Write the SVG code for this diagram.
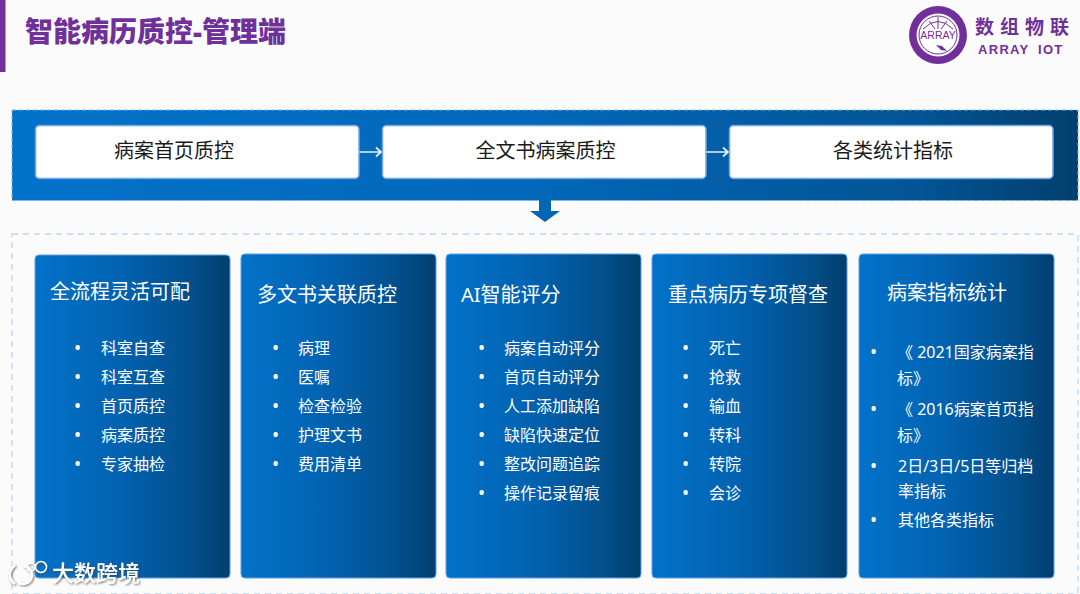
<svg xmlns="http://www.w3.org/2000/svg" width="1080" height="594" viewBox="0 0 1080 594">
<style>
text{font-family:"Noto Sans","Noto Sans CJK SC",sans-serif}
.box{fill:#fff;stroke:#6ea6e8;stroke-width:1.500}
.bt{font-size:20px;fill:#1a1a1a;text-anchor:middle}
.card{fill:url(#g);stroke:#5f9fe6;stroke-width:1}
.ct{font-size:20px;fill:#fff}
.it{font-size:16px;fill:#fff}
.bu{font-size:19px;fill:#fff}
.flow{stroke:#e8f3fd;stroke-width:1.700;fill:none}
</style>
<defs>
<linearGradient id="g" x1="0" x2="1" y1="0" y2="0"><stop offset="0" stop-color="#0272c9"/><stop offset=".45" stop-color="#0262b0"/><stop offset=".8" stop-color="#024f8c"/><stop offset="1" stop-color="#023f6e"/></linearGradient>
<linearGradient id="gb" x1="0" x2="1" y1="0" y2="0"><stop offset="0" stop-color="#0272c9"/><stop offset=".5" stop-color="#0267b8"/><stop offset=".85" stop-color="#025494"/><stop offset="1" stop-color="#023f6e"/></linearGradient>
<filter id="sh" x="-10%" y="-30%" width="120%" height="160%"><feDropShadow dx="1" dy="1" stdDeviation="1.200" flood-color="#444" flood-opacity=".8"/></filter>
</defs>
<rect width="1080" height="594" fill="#fbfbfc"/>
<rect x="0" y="0" width="5.500" height="72" fill="#70309a"/>
<text x="25" y="42" font-size="28" font-weight="900" fill="#70309a">智能病历质控-管理端</text>
<g id="logo">
<circle cx="938" cy="35" r="29" fill="#70309a"/>
<circle cx="938" cy="35" r="21" fill="#fff" stroke="#fff"/>
<circle cx="938" cy="35" r="19" fill="none" stroke="#70309a" stroke-width="1"/>
<path d="M923 29Q938 14 953 29M938 17V29M929 21L935 29M947 21L941 29" fill="none" stroke="#70309a" stroke-width="1"/>
<path d="M936 45l6 1 5 5-6-1z" fill="#70309a"/>
<text x="938" y="39" font-size="10.500" fill="#70309a" text-anchor="middle" style="font-family:'Liberation Sans',sans-serif">ARRAY</text>
<text x="975" y="34" font-size="19" font-weight="700" fill="#70309a" letter-spacing="6" style="font-family:'Noto Sans CJK SC',serif">数组物联</text>
<text x="978" y="54" font-size="13" font-weight="700" fill="#70309a" letter-spacing="1.300" style="font-family:'Liberation Sans',sans-serif">ARRAY <tspan x="1038">IOT</tspan></text>
</g>
<rect id="flow-band" x="12" y="110" width="1066" height="90.500" fill="url(#gb)" stroke="#7db8ee" stroke-width="1" stroke-dasharray="4 3"/>
<rect id="panel" x="12" y="234" width="1066" height="360" fill="none" stroke="#bcd6f5" stroke-width="1.300" stroke-dasharray="6 5"/>
<g id="n1"><rect class="box" x="35.500" y="125.500" width="323.500" height="53" rx="4"/><text class="bt" x="174" y="158">病案首页质控</text></g>
<g id="n2"><rect class="box" x="382.500" y="125.500" width="323.500" height="53" rx="4"/><text class="bt" x="545.500" y="158">全文书病案质控</text></g>
<g id="n3"><rect class="box" x="729.500" y="125.500" width="323.500" height="53" rx="4"/><text class="bt" x="893" y="158">各类统计指标</text></g>
<g id="connectors">
<path class="flow" d="M359.500 152H381M376 147.500l5 4.500-5 4.500"/>
<path class="flow" d="M706.500 152H728M723 147.500l5 4.500-5 4.500"/>
<path d="M539 200H551V211H560L545 222 530 211H539Z" fill="#0365b4"/>
</g>
<g id="c1"><rect class="card" x="35" y="255" width="195" height="323" rx="4"/>
<text class="ct" x="50" y="299">全流程灵活可配</text>
<g class="it"><text class="bu" x="74" y="355">•</text><text x="101" y="354">科室自查</text><text class="bu" x="74" y="384">•</text><text x="101" y="383">科室互查</text><text class="bu" x="74" y="413">•</text><text x="101" y="412">首页质控</text><text class="bu" x="74" y="442">•</text><text x="101" y="441">病案质控</text><text class="bu" x="74" y="471">•</text><text x="101" y="470">专家抽检</text></g></g>
<g id="c2"><rect class="card" x="241" y="254" width="195" height="324" rx="4"/>
<text class="ct" x="257" y="302">多文书关联质控</text>
<g class="it"><text class="bu" x="272" y="355">•</text><text x="298" y="354">病理</text><text class="bu" x="272" y="384">•</text><text x="298" y="383">医嘱</text><text class="bu" x="272" y="413">•</text><text x="298" y="412">检查检验</text><text class="bu" x="272" y="442">•</text><text x="298" y="441">护理文书</text><text class="bu" x="272" y="471">•</text><text x="298" y="470">费用清单</text></g></g>
<g id="c3"><rect class="card" x="446" y="254" width="195" height="324" rx="4"/>
<text class="ct" x="461" y="302">AI智能评分</text>
<g class="it"><text class="bu" x="478" y="355">•</text><text x="504" y="354">病案自动评分</text><text class="bu" x="478" y="384">•</text><text x="504" y="383">首页自动评分</text><text class="bu" x="478" y="413">•</text><text x="504" y="412">人工添加缺陷</text><text class="bu" x="478" y="442">•</text><text x="504" y="441">缺陷快速定位</text><text class="bu" x="478" y="471">•</text><text x="504" y="470">整改问题追踪</text><text class="bu" x="478" y="500">•</text><text x="504" y="499">操作记录留痕</text></g></g>
<g id="c4"><rect class="card" x="652" y="254" width="195" height="324" rx="4"/>
<text class="ct" x="668" y="302">重点病历专项督查</text>
<g class="it"><text class="bu" x="682" y="355">•</text><text x="709" y="354">死亡</text><text class="bu" x="682" y="384">•</text><text x="709" y="383">抢救</text><text class="bu" x="682" y="413">•</text><text x="709" y="412">输血</text><text class="bu" x="682" y="442">•</text><text x="709" y="441">转科</text><text class="bu" x="682" y="471">•</text><text x="709" y="470">转院</text><text class="bu" x="682" y="500">•</text><text x="709" y="499">会诊</text></g></g>
<g id="c5"><rect class="card" x="859" y="254" width="195" height="324" rx="4"/>
<text class="ct" x="887" y="300">病案指标统计</text>
<g class="it"><text class="bu" x="870" y="359">•</text><text x="897" y="358">《 2021国家病案指</text><text x="897" y="384">标》</text><text class="bu" x="870" y="416">•</text><text x="897" y="415">《 2016病案首页指</text><text x="897" y="441">标》</text><text class="bu" x="870" y="473">•</text><text x="898" y="472">2日/3日/5日等归档</text><text x="898" y="497">率指标</text><text class="bu" x="870" y="527">•</text><text x="898" y="526">其他各类指标</text></g></g>
<g id="watermark" filter="url(#sh)">
<path d="M15 565c-7 6-7 14 0 19M24 566a9 9 0 1 1-5 17" fill="none" stroke="#fff" stroke-width="2.500"/>
<circle cx="31" cy="567" r="4" fill="none" stroke="#fff" stroke-width="1.500"/>
<circle cx="41" cy="567" r="5.500" fill="none" stroke="#fff" stroke-width="1.500"/>
<text x="52" y="581" font-size="22" font-weight="500" fill="#fff">大数跨境</text>
</g>
</svg>
